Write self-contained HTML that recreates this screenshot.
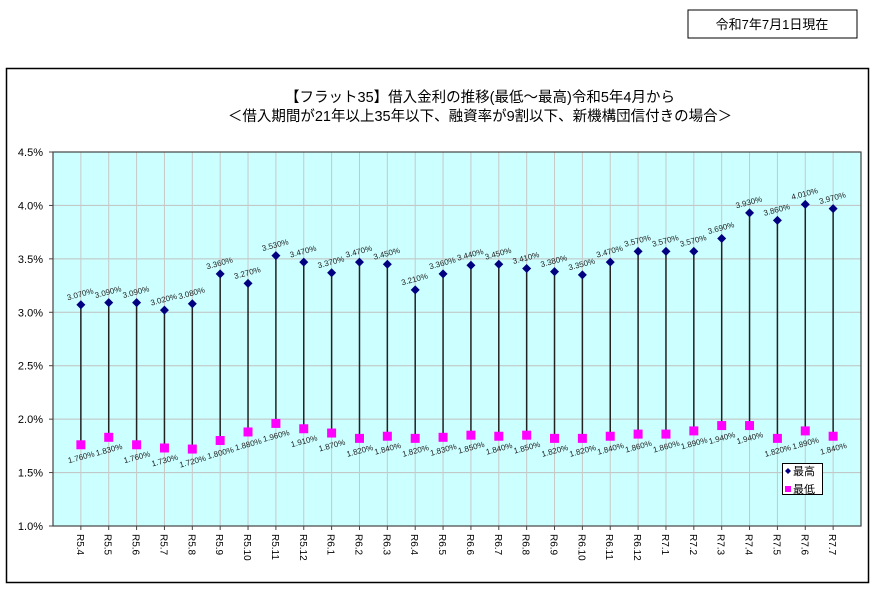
<!DOCTYPE html>
<html><head><meta charset="utf-8"><style>
body{margin:0;width:885px;height:587px;background:#fff;overflow:hidden;font-family:"Liberation Sans","Noto Sans CJK JP",sans-serif;}
</style></head><body>
<svg width="885" height="587" xmlns="http://www.w3.org/2000/svg" font-family="Liberation Sans, Noto Sans CJK JP, sans-serif">
<rect x="688" y="10" width="169" height="28" fill="#fff" stroke="#000" stroke-width="1"/>
<text x="772" y="29" font-size="13" text-anchor="middle">令和7年7月1日現在</text>
<rect x="6.5" y="68.5" width="862" height="514" fill="#fff" stroke="#000" stroke-width="1.5"/>
<text x="480" y="102" font-size="14.5" text-anchor="middle">【フラット35】借入金利の推移(最低～最高)令和5年4月から</text>
<text x="480" y="121" font-size="14.5" text-anchor="middle">＜借入期間が21年以上35年以下、融資率が9割以下、新機構団信付きの場合＞</text>
<rect x="53" y="152" width="808" height="374" fill="#ccffff"/>
<g id="grid"></g><g id="marks"></g>
<rect x="53" y="152" width="808" height="374" fill="none" stroke="#444" stroke-width="1.2"/>
<g>
<rect x="782.5" y="463.5" width="40" height="31" fill="#fff" stroke="#000"/>
<path d="M788 468 l3 3 -3 3 -3 -3z" fill="#000080"/>
<text x="793" y="475" font-size="11">最高</text>
<rect x="785" y="486" width="6" height="6" fill="#ff00ff"/>
<text x="793" y="493" font-size="11">最低</text>
</g>
</svg>
<script>
const categories=["R5.4","R5.5","R5.6","R5.7","R5.8","R5.9","R5.10","R5.11","R5.12","R6.1","R6.2","R6.3","R6.4","R6.5","R6.6","R6.7","R6.8","R6.9","R6.10","R6.11","R6.12","R7.1","R7.2","R7.3","R7.4","R7.5","R7.6","R7.7"];
const highs=[3.070,3.090,3.090,3.020,3.080,3.360,3.270,3.530,3.470,3.370,3.470,3.450,3.210,3.360,3.440,3.450,3.410,3.380,3.350,3.470,3.570,3.570,3.570,3.690,3.930,3.860,4.010,3.970];
const lows=[1.760,1.830,1.760,1.730,1.720,1.800,1.880,1.960,1.910,1.870,1.820,1.840,1.820,1.830,1.850,1.840,1.850,1.820,1.820,1.840,1.860,1.860,1.890,1.940,1.940,1.820,1.890,1.840];
const yTicks=[1.0,1.5,2.0,2.5,3.0,3.5,4.0,4.5];
const NS="http://www.w3.org/2000/svg";
const X0=53,X1=861,Y0=526,Y1=152,YMIN=1.0,YMAX=4.5;
const step=(X1-X0)/(categories.length+1);
function x(i){return X0+step*(i+1);}
function y(v){return Y0-(v-YMIN)/(YMAX-YMIN)*(Y0-Y1);}
function mk(tag,attrs,parent){const e=document.createElementNS(NS,tag);for(const k in attrs)e.setAttribute(k,attrs[k]);parent.appendChild(e);return e;}
const svg=document.querySelector('svg');
const grid=document.getElementById('grid'),marks=document.getElementById('marks');
yTicks.forEach(t=>{
  const l=mk('line',{x1:X0,x2:X1,y1:y(t),y2:y(t),stroke:'#c0c0c0','stroke-width':1},grid);
  
  
  const tk=mk('line',{x1:X0-4,x2:X0,y1:y(t),y2:y(t),stroke:'#444'},grid);
  
  
  const tx=mk('text',{x:43,y:y(t)+4,'font-size':11,'text-anchor':'end'},svg);
  tx.textContent=t.toFixed(1)+'%';
  
  
});
categories.forEach((c,i)=>{
  const xi=x(i);
  const g=mk('line',{x1:xi,x2:xi,y1:Y1,y2:Y0,stroke:'#c8c8c8','stroke-width':1},grid);
  
  
  const tk=mk('line',{x1:xi,x2:xi,y1:Y0,y2:Y0+4,stroke:'#444'},grid);
  
  
  const lb=mk('text',{x:0,y:0,'font-size':10,transform:`translate(${xi-4},${Y0+8}) rotate(90)`},svg);
  lb.textContent=c;
  
  
  const st=mk('line',{x1:xi,x2:xi,y1:y(highs[i]),y2:y(lows[i]),stroke:'#222','stroke-width':1.5},marks);
  
  
  const hy=y(highs[i]);
  const d=mk('path',{d:`M${xi} ${hy-4.5} L${xi+4.5} ${hy} L${xi} ${hy+4.5} L${xi-4.5} ${hy}Z`,fill:'#000080'},marks);
  
  
  const ly=y(lows[i]);
  const s=mk('rect',{x:xi-4.5,y:ly-4.5,width:9,height:9,fill:'#ff00ff'},marks);
  
  
  const ht=mk('text',{x:0,y:0,'font-size':8,fill:'#222','text-anchor':'middle',transform:`translate(${xi},${hy-8}) rotate(-15)`},marks);
  ht.textContent=highs[i].toFixed(3)+'%';
  
  
  const lt=mk('text',{x:0,y:0,'font-size':8,fill:'#222','text-anchor':'middle',transform:`translate(${xi+1},${ly+15}) rotate(-15)`},marks);
  lt.textContent=lows[i].toFixed(3)+'%';
  
  
});
</script>
</body></html>
